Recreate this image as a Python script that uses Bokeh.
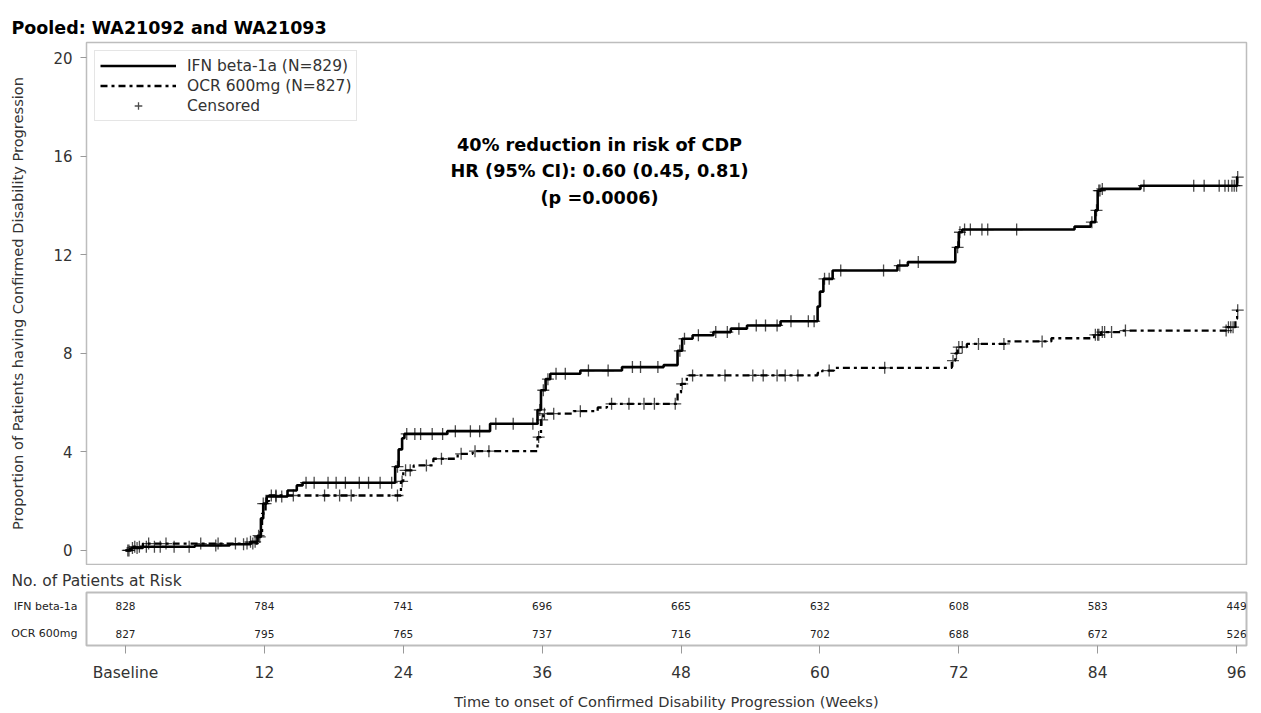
import numpy as np
from bokeh.plotting import figure
from bokeh.models import Range1d, Label, Legend, LegendItem, FixedTicker
from bokeh.layouts import column
from bokeh.embed import file_html
from bokeh.resources import INLINE
from bokeh.core.properties import value

# ---------------- data ----------------
title_text = "Pooled: WA21092 and WA21093"
ifn_label = "IFN beta-1a (N=829)"
ocr_label = "OCR 600mg (N=827)"

# Kaplan-Meier step curves: time of step (weeks) and cumulative % after step
ifn_t = [0.0, 0.5, 1.5, 6.0, 9.0, 10.8, 11.4, 11.7, 11.9, 12.2, 14.0, 14.8, 15.3, 23.3, 23.6,
         23.9, 24.1, 27.8, 31.5, 35.6, 35.9, 36.3, 36.7, 39.3, 42.9, 46.5, 47.7, 48.1, 49.0,
         50.8, 52.3, 53.7, 56.6, 59.8, 60.0, 60.3, 61.1, 66.7, 67.6, 71.7, 72.0, 72.3, 82.0,
         83.4, 83.8, 84.0, 84.3, 87.7, 96.05]
ifn_v = [0.0, 0.1, 0.15, 0.2, 0.25, 0.35, 0.55, 1.3, 1.9, 2.19, 2.43, 2.64, 2.75, 3.4, 4.1,
         4.55, 4.73, 4.84, 5.14, 5.7, 6.5, 6.95, 7.17, 7.3, 7.44, 7.52, 8.1, 8.59, 8.73,
         8.86, 9.0, 9.13, 9.3, 9.9, 10.5, 11.02, 11.36, 11.56, 11.7, 12.3, 12.91, 13.02, 13.14,
         13.32, 13.8, 14.6, 14.67, 14.8, 15.15]
ifn_end = 96.1

ocr_t = [0.0, 0.4, 1.5, 11.4, 11.8, 12.1, 12.4, 23.8, 24.0, 24.9, 26.6, 28.7, 30.0, 35.6,
         35.9, 36.1, 38.7, 40.8, 41.6, 47.7, 48.0, 48.5, 59.8, 60.2, 61.2, 71.4, 71.7, 71.9,
         72.7, 76.2, 80.0, 83.7, 84.3, 86.0, 95.2, 95.9, 96.05]
ocr_v = [0.0, 0.15, 0.28, 0.6, 1.5, 2.0, 2.23, 2.8, 3.25, 3.45, 3.72, 3.92, 4.03, 4.6,
         5.3, 5.55, 5.65, 5.8, 5.95, 6.4, 6.76, 7.1, 7.2, 7.3, 7.41, 7.7, 8.0, 8.25,
         8.38, 8.48, 8.61, 8.75, 8.86, 8.92, 9.06, 9.4, 9.75]
ocr_end = 96.1

# censoring times (weeks)
ifn_cens = [0.2, 0.6, 1.0, 1.8, 2.5, 3.0, 4.2, 5.5, 7.8, 10.2, 10.8, 11.2, 11.6, 11.9, 12.1,
            13.0, 13.5, 15.6, 16.3, 17.5, 18.2, 19.0, 20.2, 21.0, 22.0, 23.0, 23.5, 24.3,
            25.0, 25.5, 26.5, 27.4, 28.5, 29.8, 30.6, 32.0, 33.5, 35.2, 35.8, 36.1, 36.5,
            37.2, 38.0, 40.0, 41.7, 43.8, 44.5, 46.0, 47.9, 48.3, 49.5, 51.0, 52.0, 53.0,
            54.5, 55.3, 56.3, 57.5, 59.0, 59.5, 60.4, 60.8, 61.8, 65.5, 66.9, 68.5, 71.9,
            72.1, 72.5, 73.0, 74.0, 74.5, 77.0, 83.5, 83.9, 84.1, 84.2, 84.4, 88.0, 92.3,
            93.2, 94.5, 95.0, 95.3, 95.6, 95.8, 96.0, 96.1]
ocr_cens = [0.3, 0.8, 1.2, 2.0, 3.5, 6.5, 8.0, 9.5, 10.5, 11.0, 11.5, 12.6, 13.0, 14.5,
            17.2, 18.5, 19.5, 23.5, 23.9, 24.2, 24.6, 26.0, 27.3, 29.0, 30.2, 31.4, 35.7,
            36.0, 36.2, 37.0, 39.3, 42.0, 43.5, 44.8, 45.7, 47.5, 48.1, 49.0, 51.8, 54.2,
            55.1, 56.3, 57.0, 58.1, 60.8, 65.6, 71.5, 71.8, 72.0, 72.3, 73.7, 75.9, 79.2,
            83.8, 84.0, 84.1, 84.4, 84.6, 85.2, 86.4, 95.1, 95.3, 95.5, 95.7, 96.1]

y_ticks = [0, 4, 8, 12, 16, 20]
x_ticks = [0, 12, 24, 36, 48, 60, 72, 84, 96]
x_tick_labels = ["Baseline", "12", "24", "36", "48", "60", "72", "84", "96"]

risk_rows = ["IFN beta-1a", "OCR 600mg"]
ifn_risk = [828, 784, 741, 696, 665, 632, 608, 583, 449]
ocr_risk = [827, 795, 765, 737, 716, 702, 688, 672, 526]

annot_lines = ["40% reduction in risk of CDP", "HR (95% CI): 0.60 (0.45, 0.81)", "(p =0.0006)"]

# ---------------- helpers ----------------
def step_lookup(t, v, q):
    t = np.asarray(t); v = np.asarray(v)
    idx = np.searchsorted(t, np.asarray(q), side="right") - 1
    return v[np.clip(idx, 0, len(v) - 1)]

FONT = "DejaVu Sans"
TXT = "#333333"
GRAYLINE = "#bdbdbd"

# ---------------- main KM figure ----------------
p = figure(width=1258, height=565, x_range=Range1d(-3.37, 96.86), y_range=Range1d(-0.57, 20.61),
           output_backend="svg", toolbar_location=None, x_axis_location=None,
           min_border_left=86, min_border_right=12, min_border_top=42, min_border_bottom=1)
p.title.text = title_text
p.title.text_font = "DejaVu Sans"
p.title.text_font_size = "17.5px"
p.title.text_font_style = "bold"
p.title.text_color = "black"
p.title.align = "left"
p.title.offset = -75
p.title.standoff = 10

p.grid.visible = False
p.outline_line_color = GRAYLINE
p.outline_line_width = 1.5
p.background_fill_color = "white"
p.border_fill_color = "white"

ya = p.yaxis[0]
ya.ticker = FixedTicker(ticks=y_ticks)
ya.axis_line_color = None
ya.major_tick_line_color = "#999999"
ya.major_tick_out = 6
ya.major_tick_in = 0
ya.minor_tick_line_color = None
ya.major_label_text_font = FONT
ya.major_label_text_font_size = "15px"
ya.major_label_text_color = TXT
ya.major_label_standoff = 8
ya.axis_label = "Proportion of Patients having Confirmed Disability Progression"
ya.axis_label_text_font = FONT
ya.axis_label_text_font_size = "14.6px"
ya.axis_label_text_font_style = "normal"
ya.axis_label_text_color = TXT
ya.axis_label_standoff = 24

l1 = p.step(ifn_t + [ifn_end], ifn_v + [ifn_v[-1]], mode="after", line_color="black", line_width=2.6)
l2 = p.step(ocr_t + [ocr_end], ocr_v + [ocr_v[-1]], mode="after", line_color="black", line_width=2.3,
            line_dash="7 4 3 4")
c1 = p.scatter(ifn_cens, step_lookup(ifn_t, ifn_v, ifn_cens), marker="cross", size=12,
               line_color="black", line_width=1.3, line_alpha=0.7)
c2 = p.scatter(ocr_cens, step_lookup(ocr_t, ocr_v, ocr_cens), marker="cross", size=12,
               line_color="black", line_width=1.3, line_alpha=0.7)

legend = Legend(items=[LegendItem(label=ifn_label, renderers=[l1]),
                       LegendItem(label=ocr_label, renderers=[l2]),
                       LegendItem(label="Censored", renderers=[c1])],
                location="top_left")
legend.margin = 8
legend.padding = 5
legend.spacing = 1
legend.glyph_width = 76
legend.glyph_height = 19
legend.label_height = 19
legend.label_standoff = 11
legend.label_text_font = FONT
legend.label_text_font_size = "15.5px"
legend.label_text_color = TXT
legend.border_line_color = "#cccccc"
legend.border_line_width = 1
legend.background_fill_alpha = 1.0
p.add_layout(legend)

for txt, yv in zip(annot_lines, [16.47, 15.38, 14.32]):
    p.add_layout(Label(x=40.96, y=yv, text=txt, text_align="center", text_baseline="middle",
                       text_font="DejaVu Sans", text_font_style="bold", text_font_size="17.7px",
                       text_color="black"))

# ---------------- risk table figure ----------------
r = figure(width=1258, height=147, x_range=p.x_range, y_range=Range1d(0.567, 2.5),
           output_backend="svg", toolbar_location=None,
           min_border_left=86, min_border_right=12, min_border_top=27, min_border_bottom=62)
r.title.text = "No. of Patients at Risk"
r.title.text_font = FONT
r.title.text_font_size = "15.5px"
r.title.text_font_style = "normal"
r.title.text_color = TXT
r.title.align = "left"
r.title.offset = -75
r.title.standoff = 5
r.grid.visible = False
r.outline_line_color = GRAYLINE
r.outline_line_width = 2

ry = r.yaxis[0]
ry.ticker = FixedTicker(ticks=[1, 2])
ry.major_label_overrides = {2: risk_rows[0], 1: risk_rows[1]}
ry.axis_line_color = None
ry.major_tick_line_color = None
ry.minor_tick_line_color = None
ry.major_label_standoff = 3
ry.major_label_text_font = FONT
ry.major_label_text_font_size = "11px"
ry.major_label_text_color = "#222222"

rx = r.xaxis[0]
rx.ticker = FixedTicker(ticks=x_ticks)
rx.major_label_overrides = {t: s for t, s in zip(x_ticks, x_tick_labels)}
rx.axis_line_color = None
rx.major_tick_line_color = "#999999"
rx.major_tick_out = 8
rx.major_tick_in = 0
rx.minor_tick_line_color = None
rx.major_label_standoff = 10
rx.major_label_text_font = FONT
rx.major_label_text_font_size = "15.5px"
rx.major_label_text_color = TXT
rx.axis_label = "Time to onset of Confirmed Disability Progression (Weeks)"
rx.axis_label_text_font = FONT
rx.axis_label_text_font_size = "14.6px"
rx.axis_label_text_font_style = "normal"
rx.axis_label_text_color = TXT
rx.axis_label_standoff = 8

r.text(x=x_ticks, y=[2] * len(x_ticks), text=[str(v) for v in ifn_risk], text_align="center",
       text_baseline="middle", text_font=value(FONT), text_font_size="10.5px", text_color="#222222")
r.text(x=x_ticks, y=[1] * len(x_ticks), text=[str(v) for v in ocr_risk], text_align="center",
       text_baseline="middle", text_font=value(FONT), text_font_size="10.5px", text_color="#222222")

layout = column(p, r, spacing=0)
open("out.html", "w").write(file_html(layout, INLINE))
